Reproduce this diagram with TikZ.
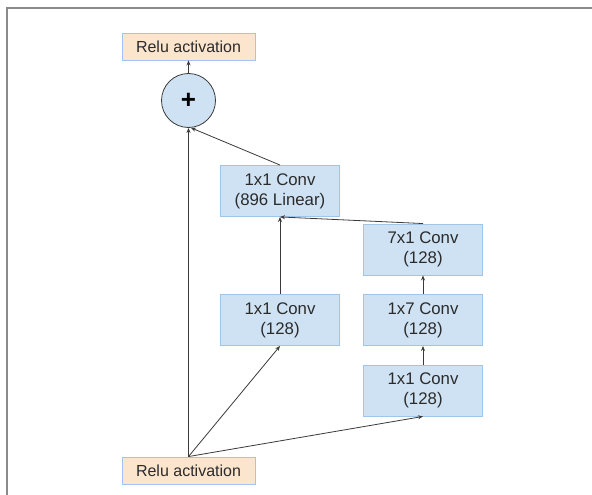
\documentclass[tikz,border=0pt]{standalone}
\usepackage{fontspec}
\setmainfont{Liberation Sans}
\usetikzlibrary{arrows.meta}
\definecolor{boxfill}{HTML}{CFE2F3}
\definecolor{boxline}{HTML}{9FC5E8}
\definecolor{relufill}{HTML}{FCE5CD}
\definecolor{reluline}{HTML}{A4C2F4}
\definecolor{edge}{HTML}{3A3A3A}
\definecolor{frame}{HTML}{8A8A8A}
\definecolor{txt}{HTML}{2B2B2B}
\tikzset{
  conv/.style={draw=boxline, line width=0.9pt, fill=boxfill, minimum width=119pt, minimum height=51pt, inner sep=0pt, align=center, font=\fontsize{16.8}{20}\selectfont, text=txt},
  relu/.style={draw=reluline, line width=0.9pt, fill=relufill, minimum width=133pt, minimum height=27pt, inner sep=0pt, font=\fontsize{16}{18}\selectfont, text=txt},
  plusnode/.style={circle, draw=edge, line width=0.8pt, fill=boxfill, minimum size=54pt, inner sep=0pt, font=\fontsize{26}{26}\selectfont\bfseries, text=black},
  conn/.style={draw=edge, line width=0.8pt, -{Stealth[length=5pt,width=4pt]}}
}
\begin{document}
\begin{tikzpicture}[x=1pt,y=-1pt]
\useasboundingbox (0,0) rectangle (592,495);
\fill[white] (0,0) rectangle (592,495);
\draw[frame, line width=1.5pt] (7,495) -- (7,8) -- (592,8);

\node[relu] (top) at (188.5,46.5) {Relu activation};
\node[plusnode] (plus) at (188.5,100.5) {+};
\node[conv] (lin) at (280,191) {1x1 Conv\\(896 Linear)};
\node[conv] (c71) at (423,249.5) {7x1 Conv\\(128)};
\node[conv] (c11a) at (280,320) {1x1 Conv\\(128)};
\node[conv] (c17) at (423,320) {1x7 Conv\\(128)};
\node[conv] (c11b) at (423,390.5) {1x1 Conv\\(128)};
\node[relu] (bot) at (188.5,470.5) {Relu activation};

\draw[conn] (bot.north) -- (plus.south);
\draw[conn] (bot.north) -- (c11a.south);
\draw[conn] (bot.north) -- (c11b.south);
\draw[conn] (c11a.north) -- (lin.south);
\draw[conn] (c11b.north) -- (c17.south);
\draw[conn] (c17.north) -- (c71.south);
\draw[conn] (c71.north) -- (lin.south);
\draw[conn] (lin.north) -- (plus.-85);
\draw[conn] (plus.north) -- (top.south);
\end{tikzpicture}
\end{document}
